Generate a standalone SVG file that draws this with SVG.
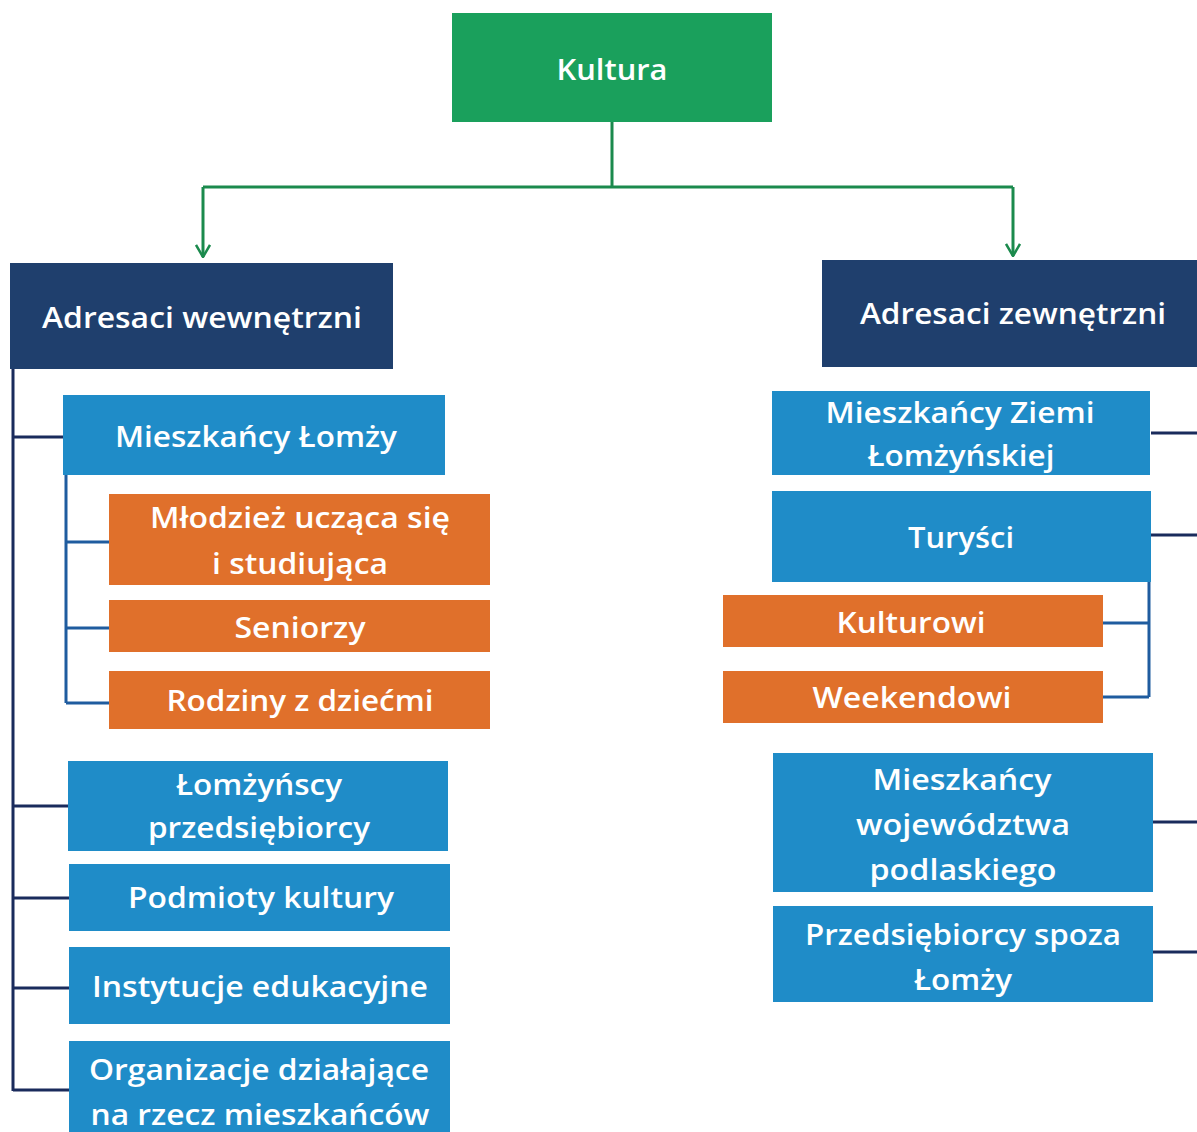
<svg xmlns="http://www.w3.org/2000/svg" width="1197" height="1132" viewBox="0 0 1197 1132">
  <defs>
    <style>
      text { font-family: "Open Sans", "Lato", "Liberation Sans", sans-serif; fill: #ffffff; text-anchor: middle; font-size: 29px; font-weight: 600; }
      .green { fill: #1aa05c; }
      .navy { fill: #1f3f6d; }
      .blue { fill: #1f8cc8; }
      .orange { fill: #e0702b; }
      .tree { stroke: #1a2b5c; stroke-width: 3; fill: none; }
      .sub { stroke: #1f5c9f; stroke-width: 3; fill: none; }
      .root { stroke: #1b8a4d; stroke-width: 3; fill: none; }
    </style>
    <!-- open chevron, drawn along +x so orient="auto" points it down the line -->
    <marker id="chev" viewBox="0 0 14 16" refX="13" refY="8" markerWidth="14" markerHeight="16" markerUnits="userSpaceOnUse" orient="auto">
      <path d="M1,1 L13,8 L1,15" stroke="#1b8a4d" stroke-width="2.5" fill="none"/>
    </marker>
  </defs>
  <rect width="1197" height="1132" fill="#ffffff"/>

  <!-- connectors -->
  <g id="connectors">
    <path class="root" d="M612,122 V187 M203,187 H1013"/>
    <path class="root" d="M203,187 V257" marker-end="url(#chev)"/>
    <path class="root" d="M1013,187 V256" marker-end="url(#chev)"/>
    <!-- internal branch -->
    <path class="tree" d="M13,369 V1091 M13,437 H63 M13,806 H68 M13,898 H69 M13,988 H69 M13,1090 H69"/>
    <path class="sub" d="M66,475 V703 M66,542 H109 M66,628 H109 M66,703 H109"/>
    <!-- external branch -->
    <path class="tree" d="M1151,433 H1197 M1151,535 H1197 M1153,822 H1197 M1153,952 H1197"/>
    <path class="sub" d="M1149,582 V697 M1103,623 H1149 M1103,697 H1149"/>
  </g>

  <g id="kultura">
    <rect class="green" x="452" y="13" width="320" height="109"/>
    <text x="612" y="80" textLength="111" lengthAdjust="spacingAndGlyphs">Kultura</text>
  </g>

  <g id="adresaci-wewnetrzni">
    <rect class="navy" x="10" y="263" width="383" height="106"/>
    <text x="202" y="328" textLength="320" lengthAdjust="spacingAndGlyphs">Adresaci wewnętrzni</text>
  </g>

  <g id="adresaci-zewnetrzni">
    <rect class="navy" x="822" y="260" width="375" height="107"/>
    <text x="1013" y="324" textLength="306" lengthAdjust="spacingAndGlyphs">Adresaci zewnętrzni</text>
  </g>

  <g id="mieszkancy-lomzy">
    <rect class="blue" x="63" y="395" width="382" height="80"/>
    <text x="256" y="447" textLength="282" lengthAdjust="spacingAndGlyphs">Mieszkańcy Łomży</text>
  </g>

  <g id="mlodziez">
    <rect class="orange" x="109" y="494" width="381" height="91"/>
    <text x="300" y="528" textLength="300" lengthAdjust="spacingAndGlyphs">Młodzież ucząca się</text>
    <text x="300" y="574" textLength="176" lengthAdjust="spacingAndGlyphs">i studiująca</text>
  </g>

  <g id="seniorzy">
    <rect class="orange" x="109" y="600" width="381" height="52"/>
    <text x="300" y="638" textLength="131" lengthAdjust="spacingAndGlyphs">Seniorzy</text>
  </g>

  <g id="rodziny">
    <rect class="orange" x="109" y="671" width="381" height="58"/>
    <text x="300" y="711" textLength="267" lengthAdjust="spacingAndGlyphs">Rodziny z dziećmi</text>
  </g>

  <g id="lomzynscy-przedsiebiorcy">
    <rect class="blue" x="68" y="761" width="380" height="90"/>
    <text x="259" y="795" textLength="166" lengthAdjust="spacingAndGlyphs">Łomżyńscy</text>
    <text x="259" y="838" textLength="222" lengthAdjust="spacingAndGlyphs">przedsiębiorcy</text>
  </g>

  <g id="podmioty-kultury">
    <rect class="blue" x="69" y="864" width="381" height="67"/>
    <text x="261" y="908" textLength="266" lengthAdjust="spacingAndGlyphs">Podmioty kultury</text>
  </g>

  <g id="instytucje-edukacyjne">
    <rect class="blue" x="69" y="947" width="381" height="77"/>
    <text x="260" y="997" textLength="336" lengthAdjust="spacingAndGlyphs">Instytucje edukacyjne</text>
  </g>

  <g id="organizacje">
    <rect class="blue" x="69" y="1041" width="381" height="95"/>
    <text x="259" y="1080" textLength="340" lengthAdjust="spacingAndGlyphs">Organizacje działające</text>
    <text x="260" y="1125" textLength="339" lengthAdjust="spacingAndGlyphs">na rzecz  mieszkańców</text>
  </g>

  <g id="mieszkancy-ziemi">
    <rect class="blue" x="772" y="391" width="378" height="84"/>
    <text x="960" y="423" textLength="269" lengthAdjust="spacingAndGlyphs">Mieszkańcy Ziemi</text>
    <text x="961" y="466" textLength="187" lengthAdjust="spacingAndGlyphs">Łomżyńskiej</text>
  </g>

  <g id="turysci">
    <rect class="blue" x="772" y="491" width="379" height="91"/>
    <text x="961" y="548" textLength="106" lengthAdjust="spacingAndGlyphs">Turyści</text>
  </g>

  <g id="kulturowi">
    <rect class="orange" x="723" y="595" width="380" height="52"/>
    <text x="911" y="633" textLength="149" lengthAdjust="spacingAndGlyphs">Kulturowi</text>
  </g>

  <g id="weekendowi">
    <rect class="orange" x="723" y="671" width="380" height="52"/>
    <text x="912" y="708" textLength="199" lengthAdjust="spacingAndGlyphs">Weekendowi</text>
  </g>

  <g id="mieszkancy-wojewodztwa">
    <rect class="blue" x="773" y="753" width="380" height="139"/>
    <text x="962" y="790" textLength="179" lengthAdjust="spacingAndGlyphs">Mieszkańcy</text>
    <text x="963" y="835" textLength="214" lengthAdjust="spacingAndGlyphs">województwa</text>
    <text x="963" y="880" textLength="187" lengthAdjust="spacingAndGlyphs">podlaskiego</text>
  </g>

  <g id="przedsiebiorcy-spoza">
    <rect class="blue" x="773" y="906" width="380" height="96"/>
    <text x="963" y="945" textLength="316" lengthAdjust="spacingAndGlyphs">Przedsiębiorcy spoza</text>
    <text x="963" y="990" textLength="98" lengthAdjust="spacingAndGlyphs">Łomży</text>
  </g>
</svg>
